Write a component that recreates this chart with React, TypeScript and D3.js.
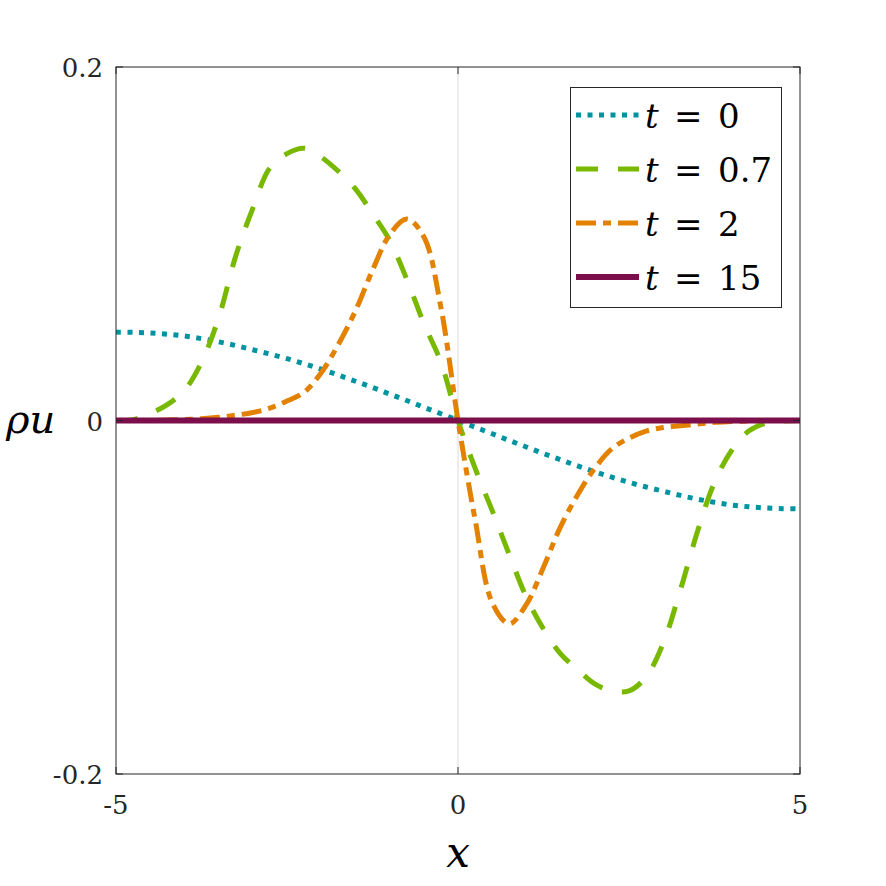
import React, { useRef, useEffect } from "react";
import * as d3 from "d3";

const width = 886;
const height = 886;
const space = { left: 116, right: 86, top: 67, bottom: 112 };

const xs = [
  -5, -4.75, -4.5, -4.25, -4, -3.75, -3.5, -3.25, -3, -2.75, -2.5, -2.25, -2, -1.75, -1.5, -1.25, -1, -0.75, -0.5, -0.25,
  0, 0.25, 0.5, 0.75, 1, 1.25, 1.5, 1.75, 2, 2.25, 2.5, 2.75, 3, 3.25, 3.5, 3.75, 4, 4.25, 4.5, 4.75, 5,
];

const t0 = [
  0.05, 0.0499, 0.0495, 0.0488, 0.0478, 0.0463, 0.0445, 0.0424, 0.04, 0.0376, 0.035, 0.0321, 0.029, 0.0257, 0.0222, 0.0187,
  0.015, 0.0113, 0.0075, 0.0038, 0, -0.0038, -0.0075, -0.0113, -0.015, -0.0187, -0.0222, -0.0257, -0.029, -0.0321, -0.035,
  -0.0376, -0.04, -0.0424, -0.0445, -0.0463, -0.0478, -0.0488, -0.0495, -0.0499, -0.05,
];

const t07 = [
  0, 0.0005, 0.004, 0.009, 0.017, 0.033, 0.058, 0.093, 0.12, 0.143, 0.151, 0.154, 0.149, 0.141, 0.131, 0.117, 0.102, 0.08,
  0.055, 0.033, 0, -0.027, -0.051, -0.076, -0.1, -0.118, -0.132, -0.141, -0.149, -0.153, -0.153, -0.145, -0.126, -0.096,
  -0.063, -0.035, -0.017, -0.006, -0.0015, -0.0003, 0,
];

const t2 = [
  0, 0, 0, 0.0003, 0.0006, 0.001, 0.0018, 0.003, 0.0045, 0.007, 0.011, 0.016, 0.027, 0.043, 0.062, 0.085, 0.105, 0.114,
  0.104, 0.064, 0, -0.056, -0.103, -0.115, -0.104, -0.083, -0.06, -0.042, -0.027, -0.016, -0.01, -0.006, -0.004, -0.003,
  -0.002, -0.001, -0.0006, -0.0003, 0, 0, 0,
];

const t15 = xs.map(() => 0);

const labels = ["0", "0.7", "2", "15"];
const colors = ["#0094a0", "#78b900", "#e38100", "#7c0f4b"];
const dashes = ["5 6.5", "22 20", "20 7 8 7", null];
const widths = [5, 5, 5, 6];
const xTicks = [-5, 0, 5];
const yTicks = [-0.2, 0, 0.2];

const font = "DejaVu Serif";

const App = () => {
  const ref = useRef<SVGSVGElement>(null);

  useEffect(() => {
    const svg = d3.select(ref.current).attr("width", width).attr("height", height);
    svg.selectAll("*").remove();
    svg.append("rect").attr("width", width).attr("height", height).attr("fill", "white");

    const x = d3.scaleLinear().domain([-5, 5]).range([space.left, width - space.right]);
    const y = d3.scaleLinear().domain([-0.2, 0.2]).range([height - space.bottom, space.top]);
    const [x0, x1] = x.range();
    const [y0, y1] = y.range();

    // zero lines
    svg.append("line").attr("x1", x(0)).attr("x2", x(0)).attr("y1", y1).attr("y2", y0)
      .attr("stroke", "#dcdcdc").attr("stroke-width", 1);
    svg.append("line").attr("x1", x0).attr("x2", x1).attr("y1", y(0)).attr("y2", y(0))
      .attr("stroke", "#9a9a9a").attr("stroke-width", 1);

    const series = [t0, t07, t2, t15];
    const line = d3.line<number>()
      .x((d, i) => x(xs[i]))
      .y((d) => y(d))
      .curve(d3.curveCatmullRom);

    series.forEach((s, k) => {
      const p = svg.append("path")
        .attr("d", line(s))
        .attr("fill", "none")
        .attr("stroke", colors[k])
        .attr("stroke-width", widths[k]);
      if (dashes[k]) p.attr("stroke-dasharray", dashes[k]);
    });

    // frame
    svg.append("rect").attr("x", x0).attr("y", y1).attr("width", x1 - x0).attr("height", y0 - y1)
      .attr("fill", "none").attr("stroke", "#262626").attr("stroke-width", 1);

    // ticks (inward)
    const tl = 7;
    xTicks.forEach((t) => {
      svg.append("line").attr("x1", x(t)).attr("x2", x(t)).attr("y1", y0).attr("y2", y0 - tl).attr("stroke", "#262626");
      svg.append("line").attr("x1", x(t)).attr("x2", x(t)).attr("y1", y1).attr("y2", y1 + tl).attr("stroke", "#262626");
      svg.append("text").attr("x", x(t)).attr("y", y0 + 40).attr("text-anchor", "middle")
        .attr("font-family", font).attr("font-size", 26).attr("fill", "#262626").text(String(t));
    });
    yTicks.forEach((t) => {
      svg.append("line").attr("x1", x0).attr("x2", x0 + tl).attr("y1", y(t)).attr("y2", y(t)).attr("stroke", "#262626");
      svg.append("line").attr("x1", x1).attr("x2", x1 - tl).attr("y1", y(t)).attr("y2", y(t)).attr("stroke", "#262626");
      svg.append("text").attr("x", x0 - 13).attr("y", y(t) + 10).attr("text-anchor", "end")
        .attr("font-family", font).attr("font-size", 26).attr("fill", "#262626").text(String(t));
    });

    // axis labels
    svg.append("text").attr("x", x(0)).attr("y", 867).attr("text-anchor", "middle")
      .attr("font-family", font).attr("font-style", "italic").attr("font-size", 42).text("x");
    svg.append("text").attr("x", 6).attr("y", y(0) + 12).attr("text-anchor", "start")
      .attr("font-family", font).attr("font-style", "italic").attr("font-size", 40).text("ρu");

    // legend
    const lg = svg.append("g");
    lg.append("rect").attr("x", 570.5).attr("y", 87.5).attr("width", 211).attr("height", 220)
      .attr("fill", "white").attr("stroke", "#262626").attr("stroke-width", 1);
    const rows = d3.scaleLinear().domain([0, 3]).range([115, 277]);
    labels.forEach((lab, k) => {
      const cy = rows(k);
      const l = lg.append("line").attr("x1", 576).attr("x2", 639).attr("y1", cy).attr("y2", cy)
        .attr("stroke", colors[k]).attr("stroke-width", widths[k]);
      if (dashes[k]) l.attr("stroke-dasharray", dashes[k]);
      const tx = lg.append("text").attr("y", cy + 13)
        .attr("font-family", font).attr("font-size", 34).attr("fill", "black");
      tx.append("tspan").attr("x", 645).attr("font-style", "italic").text("t");
      tx.append("tspan").attr("x", 674).text("=");
      tx.append("tspan").attr("x", 718).text(lab);
    });
  }, []);

  return (
    <div>
      <svg ref={ref} style={{ position: "absolute", left: 0, top: 0 }} />
    </div>
  );
};

export default App;
